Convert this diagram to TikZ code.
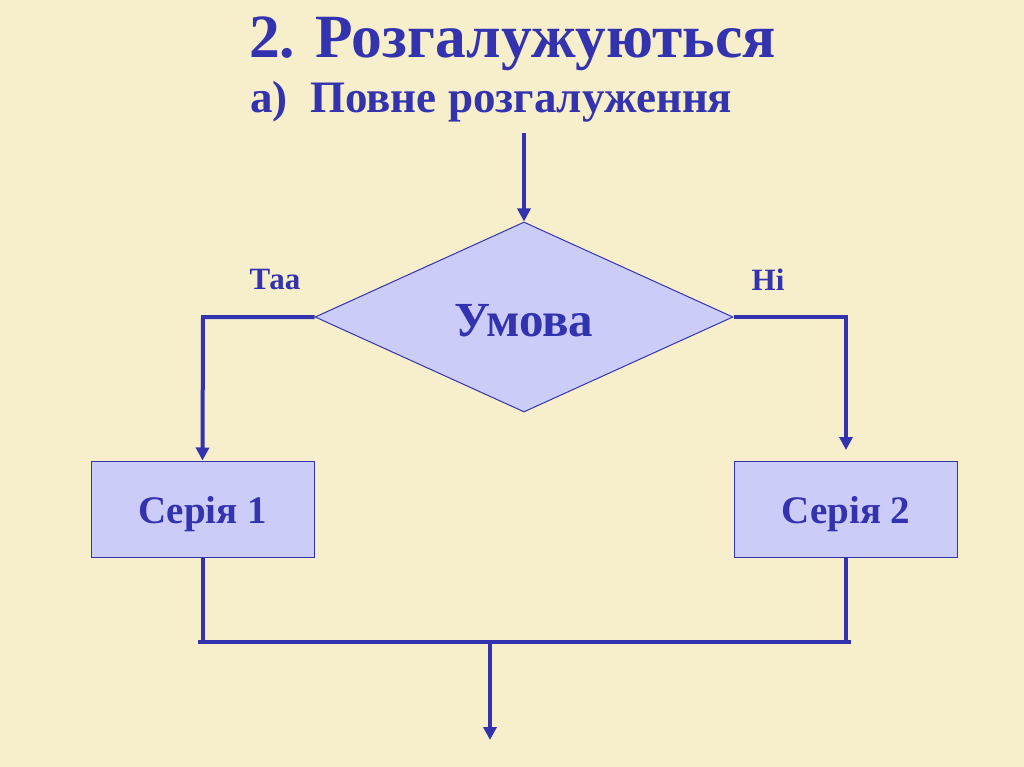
\documentclass[tikz,border=0pt]{standalone}
\usepackage{fontspec}
\setmainfont{Liberation Serif}
\usetikzlibrary{shapes.geometric,arrows.meta}
\definecolor{bg}{HTML}{F7EFCB}
\definecolor{ink}{HTML}{3333B0}
\definecolor{boxfill}{HTML}{CCCCF8}
\newcommand{\lowered}[2]{\raisebox{-#1}[\height][\depth]{#2}}
\tikzset{
  flow/.style={draw=ink, line width=4pt, -{Triangle[length=13pt,width=13pt]}},
  plain/.style={draw=ink, line width=4pt},
  box/.style={draw=ink, line width=1pt, fill=boxfill, minimum width=223pt, minimum height=96pt, inner sep=0pt, text=ink, font=\bfseries\fontsize{39}{44}\selectfont},
  cond/.style={draw=ink, line width=1pt, fill=boxfill, diamond, minimum width=418pt, minimum height=190pt, inner sep=0pt, text=ink, font=\bfseries\fontsize{49}{54}\selectfont},
  lbl/.style={text=ink, font=\bfseries\fontsize{31}{35}\selectfont, inner sep=0pt}
}
\begin{document}
\begin{tikzpicture}[x=1pt,y=-1pt]
\fill[bg] (0,0) rectangle (1024,767);
\useasboundingbox (0,0) rectangle (1024,767);
\node[anchor=base west, text=ink, font=\bfseries\fontsize{61.5}{66}\selectfont, inner sep=0pt] (title) at (249,58) {2. Розгалужуються};
\node[anchor=base west, text=ink, font=\bfseries\fontsize{45}{50}\selectfont, inner sep=0pt] (sub) at (250,113) {а)\ \ Повне розгалуження};
\node[cond] (c) at (524,317) {\lowered{4pt}{Умова}};
\node[box] (s1) at (202.5,509) {\lowered{5pt}{Серія 1}};
\node[box] (s2) at (846,509) {\lowered{5pt}{Серія 2}};
\node[lbl] (yes) at (275,280) {Таа};
\node[lbl] (no) at (768,280) {Ні};
\coordinate (in) at (524,133);
\coordinate (lc) at (203,317);
\coordinate (rc) at (846,317);
\coordinate (rend) at (846,450);
\coordinate (bl) at (198,642);
\coordinate (br) at (851,642);
\coordinate (mj) at (490,642);
\coordinate (out) at (490,740);
\draw[flow] (in) -- (c.north);
\draw[flow] (c.west) -- (lc) -- (s1.north);
\draw[flow] (c.east) -- (rc) -- (rend);
\draw[plain] (s1.south) -- (s1.south |- bl);
\draw[plain] (s2.south) -- (s2.south |- br);
\draw[plain] (bl) -- (br);
\draw[flow] (mj) -- (out);
\end{tikzpicture}
\end{document}
